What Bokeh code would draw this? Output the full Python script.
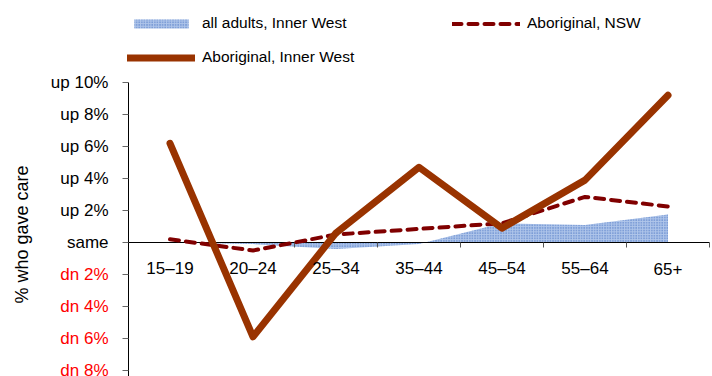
import math
from bokeh.plotting import figure
from bokeh.models import (Range1d, LabelSet, Label, ColumnDataSource,
                          Legend, LegendItem)
from bokeh.core.properties import value
from bokeh.embed import file_html
from bokeh.resources import INLINE

# ---- data ----
categories = ["15–19", "20–24", "25–34", "35–44", "45–54", "55–64", "65+"]
all_adults_inner_west = [0.0, -0.1, -0.4, -0.1, 1.2, 1.1, 1.75]
aboriginal_nsw = [0.2, -0.5, 0.5, 0.85, 1.2, 2.85, 2.25]
aboriginal_inner_west = [6.2, -5.9, 0.6, 4.7, 0.9, 3.9, 9.2]
y_ticks = [-8, -6, -4, -2, 0, 2, 4, 6, 8, 10]
y_tick_labels = ["dn 8%", "dn 6%", "dn 4%", "dn 2%", "same",
                 "up 2%", "up 4%", "up 6%", "up 8%", "up 10%"]

FONT = "Liberation Sans"
W, H = 712, 376
LEFT_PX, RIGHT_PX, TOP_PX = 128, 3, 82   # where the plotting area sits
PX_PER_PCT = 16
Y_TOP = 10
Y_BOTTOM = Y_TOP - (H - TOP_PX) / PX_PER_PCT

n = len(categories)
px_x = (W - LEFT_PX - RIGHT_PX) / n
px_y = PX_PER_PCT
x_range = Range1d(-LEFT_PX / px_x, n + RIGHT_PX / px_x)
y_range = Range1d(Y_BOTTOM, Y_TOP + TOP_PX / px_y)

p = figure(width=W, height=H, output_backend="svg", toolbar_location=None,
           x_range=x_range, y_range=y_range,
           x_axis_location=None, y_axis_location=None,
           min_border=0)
p.grid.visible = False
p.outline_line_color = None
p.background_fill_color = "white"
p.border_fill_color = "white"

xc = [i + 0.5 for i in range(n)]
src = ColumnDataSource(dict(x=xc, adults=all_adults_inner_west,
                            nsw=aboriginal_nsw, iw=aboriginal_inner_west))

area = p.varea(x="x", y1=0, y2="adults", source=src,
               fill_color="#b0c6ea", hatch_pattern="dot", hatch_color="#3a69bd",
               hatch_scale=2.6, hatch_weight=1.3)

# x axis line at zero, across the plotting area
p.segment(x0=[0], y0=[0], x1=[n], y1=[0], line_color="black", line_width=1)
# x ticks at category boundaries
bounds = list(range(1, n + 1))
p.segment(x0=bounds, y0=[0] * len(bounds), x1=bounds,
          y1=[-5 / px_y] * len(bounds), line_color="#555555", line_width=1)

# y axis line and ticks
p.segment(x0=[0], y0=[Y_BOTTOM], x1=[0], y1=[max(y_ticks)], line_color="black", line_width=1)
p.segment(x0=[0] * len(y_ticks), y0=y_ticks, x1=[-6 / px_x] * len(y_ticks), y1=y_ticks,
          line_color="#666666", line_width=1)

nsw = p.line("x", "nsw", source=src, line_color="#800000", line_width=4,
             line_dash="9 7", line_cap="round", line_join="round")
iw = p.line("x", "iw", source=src, line_color="#993300", line_width=7,
            line_cap="round", line_join="round")

# category labels
cat_src = ColumnDataSource(dict(x=xc, y=[0] * n, text=categories))
p.add_layout(LabelSet(x="x", y="y", text="text", source=cat_src, y_offset=-26,
                      text_align="center", text_baseline="middle",
                      text_font=value(FONT), text_font_size="17px",
                      text_color="black"))

# y tick labels: up / same in black, dn in red
pos = [(t, lab) for t, lab in zip(y_ticks, y_tick_labels) if t >= 0]
neg = [(t, lab) for t, lab in zip(y_ticks, y_tick_labels) if t < 0]
for items, color in ((pos, "black"), (neg, "#ff0000")):
    s = ColumnDataSource(dict(x=[0] * len(items), y=[t for t, _ in items],
                              text=[lab for _, lab in items]))
    p.add_layout(LabelSet(x="x", y="y", text="text", source=s, x_offset=-20,
                          text_align="right", text_baseline="middle",
                          text_font=value(FONT), text_font_size="17px",
                          text_color=color))

# y axis title
p.add_layout(Label(x=0, y=0.5, x_offset=-107, text="% who gave care",
                   angle=math.pi / 2, text_align="center", text_baseline="middle",
                   text_font=FONT, text_font_size="18px", text_color="black"))

# legends
def style(lg):
    lg.padding = 0
    lg.margin = 0
    lg.border_line_alpha = 0
    lg.background_fill_alpha = 0
    lg.glyph_width = 68
    lg.glyph_height = 11
    lg.label_height = 20
    lg.spacing = 14
    lg.label_standoff = 7
    lg.label_text_font = FONT
    lg.label_text_font_size = "15.5px"
    lg.label_text_color = "black"

legA = Legend(items=[LegendItem(label="all adults, Inner West", renderers=[area]),
                     LegendItem(label="Aboriginal, Inner West", renderers=[iw])],
              location=(127, H - 67))
style(legA)
legB = Legend(items=[LegendItem(label="Aboriginal, NSW", renderers=[nsw])],
              location=(452, H - 33))
style(legB)
p.add_layout(legA, "center")
p.add_layout(legB, "center")

open("out.html", "w").write(file_html(p, INLINE))
